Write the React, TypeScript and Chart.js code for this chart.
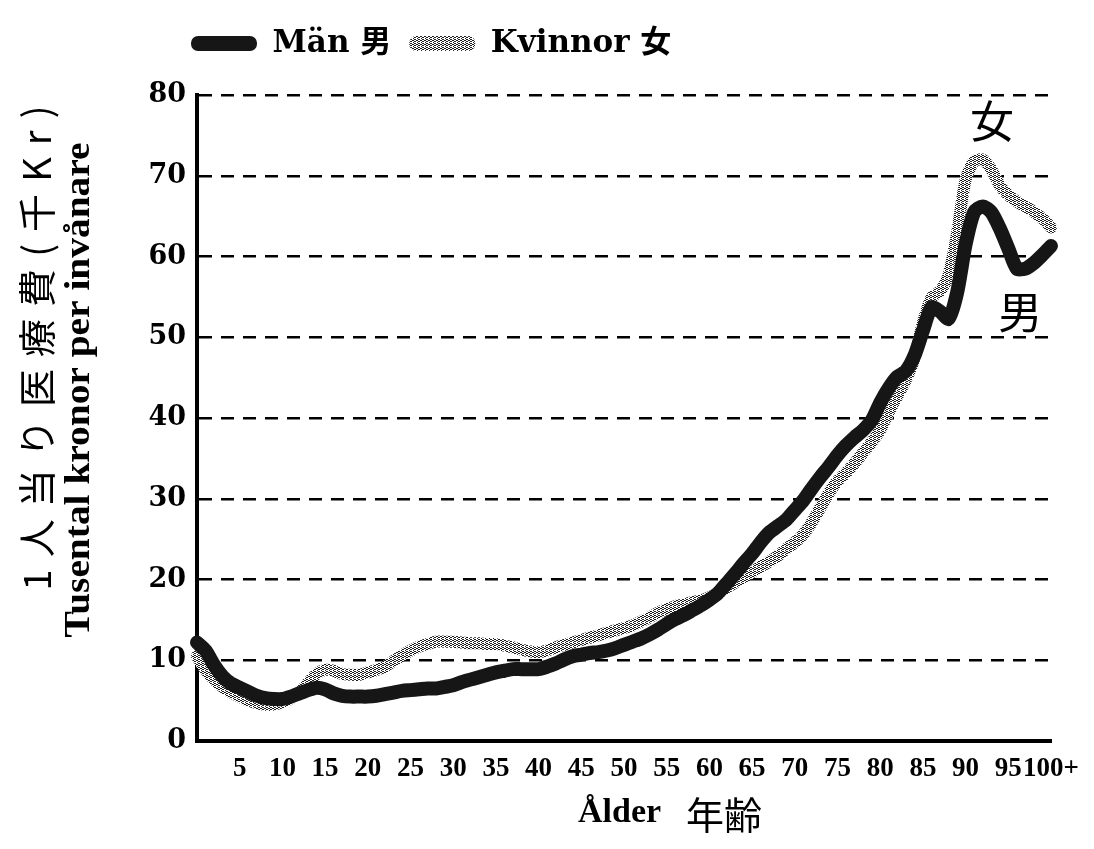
import React, { useEffect, useRef } from 'react';
import { Chart, registerables } from 'chart.js';

Chart.register(...registerables);

// ---- data ----
const ages = [
  0, 1, 2, 3, 4, 5, 6, 7, 8, 9, 10, 11, 12, 13, 14, 15, 16, 17, 18, 19, 20,
  21, 22, 23, 24, 25, 26, 27, 28, 29, 30, 31, 32, 33, 34, 35, 36, 37, 38, 39, 40,
  41, 42, 43, 44, 45, 46, 47, 48, 49, 50, 51, 52, 53, 54, 55, 56, 57, 58, 59, 60,
  61, 62, 63, 64, 65, 66, 67, 68, 69, 70, 71, 72, 73, 74, 75, 76, 77, 78, 79, 80,
  81, 82, 83, 84, 85, 86, 87, 88, 89, 90, 91, 92, 93, 94, 95, 96, 97, 98, 99, 100,
];

const menCosts = [
  12.2, 11.2, 9.4, 8.0, 7.1, 6.6, 6.1, 5.6, 5.3, 5.2, 5.2,
  5.5, 5.9, 6.3, 6.6, 6.4, 5.9, 5.6, 5.5, 5.5, 5.5,
  5.6, 5.8, 6.0, 6.2, 6.3, 6.4, 6.5, 6.5, 6.7, 6.9,
  7.3, 7.6, 7.9, 8.2, 8.5, 8.7, 8.9, 8.9, 8.9, 8.9,
  9.2, 9.6, 10.1, 10.5, 10.7, 10.9, 11.0, 11.2, 11.5, 11.9,
  12.3, 12.7, 13.2, 13.8, 14.5, 15.1, 15.6, 16.2, 16.8, 17.5,
  18.3, 19.5, 20.7, 22.0, 23.2, 24.6, 25.8, 26.6, 27.4, 28.6,
  29.8, 31.3, 32.7, 34.0, 35.4, 36.6, 37.6, 38.5, 39.7, 41.9,
  43.7, 45.1, 45.8, 47.7, 50.8, 53.7, 53.2, 52.3, 55.5, 61.5,
  65.5, 66.2, 65.5, 63.5, 61.0, 58.5, 58.5, 59.2, 60.2, 61.3,
];

const womenCosts = [
  10.5, 8.8, 7.6, 6.7, 6.0, 5.5, 5.0, 4.7, 4.5, 4.5, 4.8,
  5.3, 6.0, 7.2, 8.3, 8.8, 8.7, 8.3, 8.2, 8.2, 8.5,
  8.8, 9.2, 9.9, 10.6, 11.2, 11.7, 12.0, 12.3, 12.3, 12.3,
  12.2, 12.1, 12.1, 12.0, 12.0, 11.8, 11.6, 11.3, 11.1, 11.0,
  11.2, 11.6, 11.9, 12.2, 12.5, 12.8, 13.1, 13.4, 13.7, 14.0,
  14.3, 14.8, 15.3, 15.9, 16.3, 16.7, 16.9, 17.2, 17.4, 17.8,
  18.3, 19.0, 19.6, 20.3, 20.9, 21.6, 22.2, 22.9, 23.8, 24.6,
  25.6, 27.1, 28.9, 30.7, 32.2, 33.2, 34.4, 35.7, 37.0, 38.5,
  40.7, 42.7, 44.7, 47.4, 51.8, 54.9, 55.7, 57.7, 62.9, 69.5,
  71.8, 72.0, 70.8, 68.8, 67.6, 66.8, 66.2, 65.5, 64.7, 63.6,
];

const xTickValues = [5, 10, 15, 20, 25, 30, 35, 40, 45, 50, 55, 60, 65, 70, 75, 80, 85, 90, 95, 100];
const xTickLabels = ['5', '10', '15', '20', '25', '30', '35', '40', '45', '50', '55', '60', '65', '70', '75', '80', '85', '90', '95', '100+'];
const yTickValues = [0, 10, 20, 30, 40, 50, 60, 70, 80];

const seriesLabels = ['Män 男', 'Kvinnor 女'];
const yTitleJa = '1人当り医療費(千Kr)';
const yTitleSv = 'Tusental kronor per invånare';
const xTitleSv = 'Ålder';
const xTitleJa = '年齢';
const womanMark = '女';
const manMark = '男';

const SERIF = '"DejaVu Serif", "Noto Sans CJK JP", serif';
const TIMES = '"Liberation Serif", "Noto Sans CJK JP", serif';
const CJK = '"Noto Sans CJK JP", sans-serif';

function makeSpeckle(): CanvasPattern | string {
  const c = document.createElement('canvas');
  c.width = 4;
  c.height = 4;
  const g = c.getContext('2d');
  if (!g) return '#a0a0a0';
  g.fillStyle = '#ffffff';
  g.fillRect(0, 0, 4, 4);
  g.fillStyle = '#1e1e1e';
  const dots = [[0, 0], [2, 1], [1, 2], [3, 3], [3, 1], [1, 0], [2, 3]];
  dots.forEach(([x, y]) => g.fillRect(x, y, 1, 1));
  return g.createPattern(c, 'repeat') || '#a0a0a0';
}

const textPlugin = {
  id: 'handText',
  afterLayout(chart: any) {
    // move the legend row a little left of the plot's edge, as in the reference
    const lg = chart.legend;
    if (lg) {
      lg.left -= 24;
      lg.right -= 24;
    }
  },
  afterDraw(chart: any) {
    const { ctx } = chart;
    const xs = chart.scales.x;
    const ys = chart.scales.y;
    ctx.save();
    ctx.fillStyle = '#000';

    // Japanese y title (rotated, spread along axis)
    ctx.save();
    ctx.translate(37, 348);
    ctx.rotate(-Math.PI / 2);
    ctx.font = `38px ${CJK}`;
    ctx.textBaseline = 'middle';
    ctx.textAlign = 'left';
    const chars = Array.from(yTitleJa);
    const widths = chars.map((c) => ctx.measureText(c).width);
    const raw = widths.reduce((a, b) => a + b, 0);
    const gap = Math.max(0, (485 - raw) / (chars.length - 1));
    let cx = -(raw + gap * (chars.length - 1)) / 2;
    chars.forEach((c, i) => {
      ctx.fillText(c, cx, 0);
      cx += widths[i] + gap;
    });
    ctx.restore();

    // Swedish y title
    ctx.save();
    ctx.translate(80, 390);
    ctx.rotate(-Math.PI / 2);
    ctx.font = `bold 36px ${TIMES}`;
    const ws = ctx.measureText(yTitleSv).width;
    ctx.scale(495 / ws, 1);
    ctx.textAlign = 'center';
    ctx.textBaseline = 'middle';
    ctx.fillText(yTitleSv, 0, 0);
    ctx.restore();

    // x title
    ctx.font = `bold 34px ${TIMES}`;
    ctx.textAlign = 'left';
    ctx.textBaseline = 'alphabetic';
    ctx.fillText(xTitleSv, 578, 822);
    ctx.font = `38px ${CJK}`;
    ctx.textBaseline = 'middle';
    ctx.fillText(xTitleJa, 686, 815);

    // curve annotations
    ctx.font = `44px ${CJK}`;
    ctx.textAlign = 'center';
    ctx.textBaseline = 'middle';
    ctx.fillText(womanMark, xs.getPixelForValue(93.1), ys.getPixelForValue(76.8));
    ctx.fillText(manMark, xs.getPixelForValue(96.4), ys.getPixelForValue(53.1));
    ctx.restore();
  },
};

export default function App() {
  const ref = useRef<HTMLCanvasElement | null>(null);

  useEffect(() => {
    document.body.style.margin = '0';
    const canvas = ref.current;
    if (!canvas) return;
    const speckle = makeSpeckle();
    const menColor = '#161616';

    const chart = new Chart(canvas, {
      type: 'line',
      data: {
        datasets: [
          {
            label: seriesLabels[0],
            data: ages.map((a, i) => ({ x: a, y: menCosts[i] })),
            borderColor: menColor,
            backgroundColor: menColor,
            borderWidth: 14,
            pointRadius: 0,
            tension: 0.25,
            borderCapStyle: 'round',
            borderJoinStyle: 'round',
            fill: false,
            clip: false,
          } as any,
          {
            label: seriesLabels[1],
            data: ages.map((a, i) => ({ x: a, y: womenCosts[i] })),
            borderColor: speckle,
            backgroundColor: speckle,
            borderWidth: 12,
            pointRadius: 0,
            tension: 0.25,
            borderCapStyle: 'round',
            borderJoinStyle: 'round',
            fill: false,
            clip: false,
          } as any,
        ],
      },
      options: {
        responsive: false,
        animation: false,
        events: [],
        layout: { padding: { top: 10, left: 0, right: 43, bottom: 0 } },
        plugins: {
          legend: {
            display: true,
            position: 'top',
            align: 'start',
            fullSize: false,
            labels: {
              boxWidth: 66,
              boxHeight: 15,
              padding: 18,
              color: '#000',
              font: { family: SERIF, size: 31, weight: 'bold' },
              useBorderRadius: true,
              borderRadius: 7,
              generateLabels: (c: any) =>
                c.data.datasets.map((ds: any, i: number) => ({
                  text: ds.label,
                  fillStyle: ds.borderColor,
                  strokeStyle: ds.borderColor,
                  lineWidth: 0,
                  hidden: false,
                  datasetIndex: i,
                  borderRadius: 7,
                  fontColor: '#000',
                })),
            },
          } as any,
          title: {
            display: true,
            text: '',
            weight: 500,
            padding: 7,
            font: { size: 10 },
          } as any,
          tooltip: { enabled: false },
        },
        scales: {
          x: {
            type: 'linear',
            min: 0,
            max: 100,
            afterFit: (s: any) => {
              s.height = 108;
            },
            afterBuildTicks: (s: any) => {
              s.ticks = xTickValues.map((v) => ({ value: v }));
            },
            ticks: {
              autoSkip: false,
              maxRotation: 0,
              minRotation: 0,
              padding: 12,
              color: '#000',
              font: { family: TIMES, size: 27, weight: 'bold' },
              callback: (v: any) => {
                const i = xTickValues.indexOf(Number(v));
                return i >= 0 ? xTickLabels[i] : '';
              },
            },
            grid: { display: false, drawTicks: false },
            border: { display: true, color: '#000', width: 4 },
          } as any,
          y: {
            type: 'linear',
            min: 0,
            max: 80,
            afterFit: (s: any) => {
              s.width = 197;
            },
            afterBuildTicks: (s: any) => {
              s.ticks = yTickValues.map((v) => ({ value: v }));
            },
            ticks: {
              padding: 11,
              color: '#000',
              font: { family: SERIF, size: 27, weight: 'bold' },
              callback: (v: any) => String(v),
            },
            grid: {
              display: true,
              drawTicks: false,
              lineWidth: 2.5,
              color: (c: any) => (c.tick && c.tick.value === 0 ? 'rgba(0,0,0,0)' : '#000'),
            },
            border: { display: true, color: '#000', width: 4, dash: [13, 9] },
          } as any,
        },
      },
      plugins: [textPlugin],
    } as any);

    return () => chart.destroy();
  }, []);

  return (
    <div style={{ width: 1094, height: 849 }}>
      <canvas ref={ref} width={1094} height={849} style={{ display: 'block' }} />
    </div>
  );
}
